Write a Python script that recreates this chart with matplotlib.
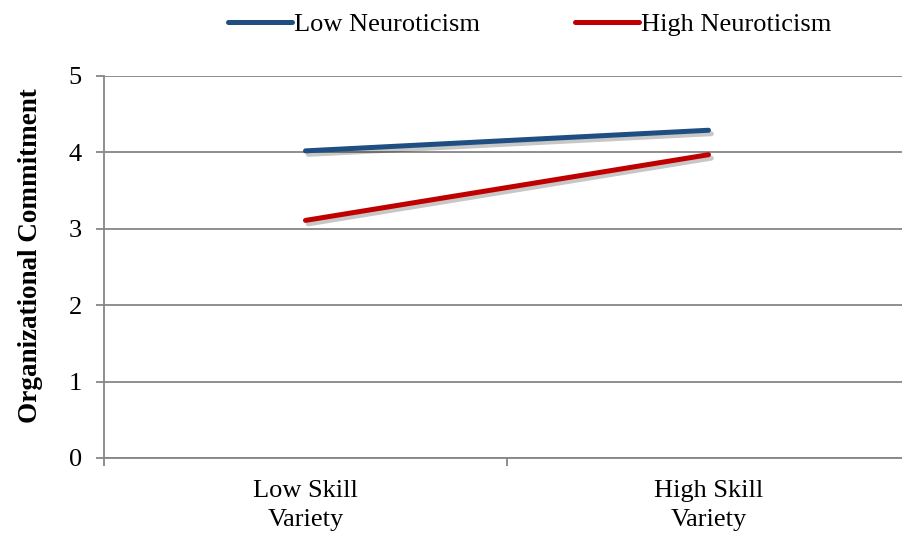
import numpy as np
import matplotlib.pyplot as plt
import matplotlib.patheffects as pe
from matplotlib.lines import Line2D

# categories and series values
categories = ["Low Skill\nVariety", "High Skill\nVariety"]
low_neuro = [4.02, 4.29]
high_neuro = [3.11, 3.97]
series_names = ["Low Neuroticism", "High Neuroticism"]
colors = ['#1f4e82', '#c00000']

plt.rcParams['font.family'] = ['Liberation Serif', 'DejaVu Serif']

fig = plt.figure(figsize=(9.03, 5.34), dpi=100)
ax = fig.add_axes([104/903, 76/534, 806/903, 382/534])

x = np.arange(len(categories))
shadow = [pe.SimpleLineShadow(offset=(2, -2.5), shadow_color='k', alpha=0.22, rho=0.6), pe.Normal()]
for vals, c in zip([low_neuro, high_neuro], colors):
    ax.plot(x, vals, color=c, lw=3.6, solid_capstyle='round',
            path_effects=shadow, zorder=3)

ax.set_ylim(0, 5)
ax.set_xlim(-0.5, 1.5)
ax.set_yticks(range(6))
ax.yaxis.grid(True, color='#868686', lw=1.3)
ax.set_axisbelow(True)

# category labels centered, ticks at category boundaries
ax.set_xticks([-0.5, 0.5, 1.5])
ax.set_xticklabels([])
ax.set_xticks(x, minor=True)
ax.set_xticklabels(categories, minor=True, linespacing=1.4)
ax.tick_params(axis='x', which='minor', length=0, pad=16, labelsize=19)
ax.tick_params(axis='x', which='major', length=6, color='#868686', width=1.3, direction='out')
ax.tick_params(axis='y', length=6, color='#868686', width=1.3, direction='out', labelsize=19, pad=10)

for s in ['top', 'right']:
    ax.spines[s].set_visible(False)
for s in ['left', 'bottom']:
    ax.spines[s].set_color('#868686')
    ax.spines[s].set_linewidth(1.3)

ax.set_ylabel("Organizational Commitment", fontsize=19.5, fontweight='bold')
ax.yaxis.set_label_coords(-0.076, 0.53)

handles = [Line2D([], [], color=c, lw=3.6, solid_capstyle='round') for c in colors]
fig.legend(handles, series_names, loc='center', bbox_to_anchor=(530/903, 1 - 24/534),
           ncol=2, frameon=False, fontsize=19, handlelength=2.4, handletextpad=0.1,
           columnspacing=3.6, borderaxespad=0)

fig.savefig("out.png", dpi=100)
